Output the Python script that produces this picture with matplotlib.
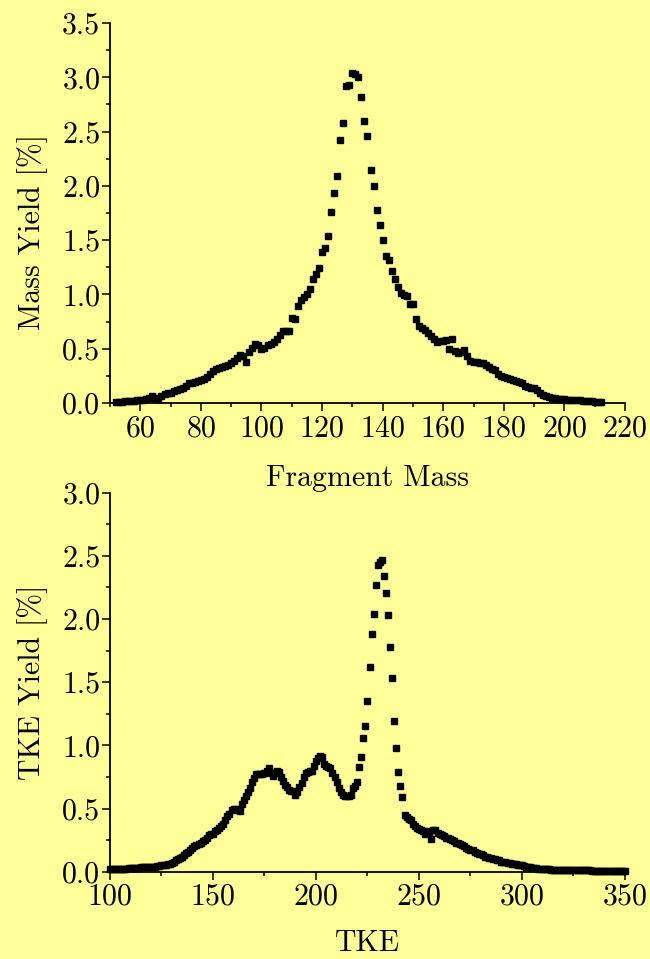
import matplotlib
matplotlib.use("Agg")
import matplotlib.pyplot as plt
from matplotlib.ticker import MultipleLocator, FormatStrFormatter

# fragment mass distribution (mass number 52..212)
mass = list(range(52, 213))
mass_yield = [
    0.01, 0.01, 0.01, 0.015, 0.015, 0.02, 0.02, 0.025,                     # 52-59
    0.025, 0.03, 0.035, 0.05, 0.06, 0.05, 0.04, 0.06, 0.08, 0.09,          # 60-69
    0.09, 0.11, 0.12, 0.13, 0.14, 0.16, 0.18, 0.18, 0.19, 0.20,            # 70-79
    0.21, 0.22, 0.24, 0.27, 0.29, 0.31, 0.32, 0.33, 0.34, 0.35,            # 80-89
    0.37, 0.39, 0.41, 0.44, 0.43, 0.38, 0.47, 0.51, 0.54, 0.53,            # 90-99
    0.50, 0.51, 0.53, 0.54, 0.56, 0.59, 0.63, 0.66, 0.66, 0.66,            # 100-109
    0.78, 0.77, 0.89, 0.95, 0.98, 1.00, 1.05, 1.14, 1.19, 1.24,            # 110-119
    1.39, 1.43, 1.54, 1.76, 1.93, 2.09, 2.42, 2.58, 2.92, 2.93,            # 120-129
    3.04, 3.03, 3.00, 2.82, 2.60, 2.46, 2.15, 2.00, 1.78, 1.64,            # 130-139
    1.50, 1.35, 1.32, 1.22, 1.14, 1.07, 1.01, 0.99, 0.985, 0.91,           # 140-149
    0.91, 0.77, 0.71, 0.69, 0.67, 0.64, 0.62, 0.59, 0.565, 0.57,           # 150-159
    0.57, 0.58, 0.50, 0.59, 0.48, 0.46, 0.47, 0.49, 0.43, 0.39,            # 160-169
    0.38, 0.38, 0.37, 0.37, 0.35, 0.33, 0.31, 0.30, 0.27, 0.25,            # 170-179
    0.24, 0.23, 0.22, 0.21, 0.20, 0.19, 0.18, 0.16, 0.15, 0.14,            # 180-189
    0.135, 0.12, 0.09, 0.075, 0.06, 0.055, 0.05, 0.045, 0.04, 0.035,       # 190-199
    0.035, 0.03, 0.03, 0.028, 0.027, 0.025, 0.022, 0.02, 0.018, 0.015,     # 200-209
    0.013, 0.012, 0.01,                                                    # 210-212
]

# total kinetic energy distribution (100..350)
tke = list(range(100, 351))
tke_yield = [
    0.02, 0.02, 0.02, 0.02, 0.025, 0.025, 0.025, 0.025, 0.025, 0.03,       # 100
    0.03, 0.03, 0.03, 0.03, 0.03, 0.035, 0.035, 0.035, 0.035, 0.04,        # 110
    0.04, 0.04, 0.04, 0.045, 0.045, 0.05, 0.05, 0.055, 0.06, 0.065,        # 120
    0.07, 0.08, 0.09, 0.10, 0.11, 0.12, 0.13, 0.15, 0.16, 0.17,            # 130
    0.19, 0.20, 0.21, 0.22, 0.23, 0.24, 0.25, 0.27, 0.29, 0.30,            # 140
    0.30, 0.32, 0.33, 0.35, 0.36, 0.38, 0.41, 0.44, 0.46, 0.49,            # 150
    0.50, 0.50, 0.49, 0.48, 0.54, 0.57, 0.60, 0.63, 0.66, 0.71,            # 160
    0.74, 0.77, 0.77, 0.77, 0.77, 0.78, 0.80, 0.82, 0.78, 0.76,            # 170
    0.78, 0.80, 0.79, 0.75, 0.72, 0.69, 0.67, 0.65, 0.64, 0.64,            # 180
    0.61, 0.63, 0.67, 0.70, 0.75, 0.78, 0.79, 0.80, 0.80, 0.84,            # 190
    0.88, 0.90, 0.92, 0.91, 0.85, 0.84, 0.83, 0.82, 0.78, 0.75,            # 200
    0.71, 0.66, 0.63, 0.61, 0.60, 0.60, 0.60, 0.61, 0.66, 0.68,            # 210
    0.71, 0.83, 0.91, 1.06, 1.15, 1.35, 1.62, 1.88, 2.04, 2.27,            # 220
    2.43, 2.45, 2.47, 2.34, 2.21, 2.03, 1.78, 1.53, 1.19, 0.98,            # 230
    0.79, 0.68, 0.59, 0.45, 0.43, 0.42, 0.41, 0.38, 0.36, 0.35,            # 240
    0.34, 0.33, 0.32, 0.30, 0.32, 0.31, 0.26, 0.33, 0.33, 0.31,            # 250
    0.30, 0.29, 0.28, 0.27, 0.27, 0.26, 0.25, 0.24, 0.23, 0.23,            # 260
    0.22, 0.21, 0.20, 0.19, 0.18, 0.17, 0.17, 0.16, 0.15, 0.14,            # 270
    0.14, 0.13, 0.12, 0.12, 0.11, 0.11, 0.10, 0.10, 0.09, 0.09,            # 280
    0.08, 0.08, 0.075, 0.07, 0.07, 0.065, 0.06, 0.06, 0.055, 0.053,        # 290
    0.05, 0.045, 0.04, 0.04, 0.035, 0.033, 0.03, 0.027, 0.025, 0.024,      # 300
    0.022, 0.02, 0.02, 0.018, 0.017, 0.016, 0.015, 0.014, 0.013, 0.013,    # 310
    0.012, 0.012, 0.011, 0.011, 0.011, 0.01, 0.01, 0.01, 0.01, 0.01,       # 320
    0.01, 0.01, 0.01, 0.01, 0.009, 0.009, 0.009, 0.009, 0.009, 0.009,      # 330
    0.008, 0.008, 0.008, 0.008, 0.008, 0.008, 0.008, 0.008, 0.008, 0.008,  # 340
    0.008,                                                                 # 350
]

bg = "#ffff99"
plt.rcParams["font.family"] = ["cmr10", "DejaVu Serif"]
plt.rcParams["axes.formatter.use_mathtext"] = True
plt.rcParams["font.size"] = 21.5

fig = plt.figure(figsize=(6.5, 9.59), dpi=100, facecolor=bg)
ax1 = fig.add_axes([0.1692, 0.5798, 0.7923, 0.3962])
ax2 = fig.add_axes([0.1692, 0.0910, 0.7923, 0.3952])


def style(ax):
    ax.set_facecolor(bg)
    for s in ["top", "right"]:
        ax.spines[s].set_visible(False)
    for s in ["left", "bottom"]:
        ax.spines[s].set_linewidth(1.3)
    ax.tick_params(which="major", direction="out", length=5.5, width=1.1, pad=3)
    ax.tick_params(which="minor", direction="out", length=3, width=1.1)
    ax.tick_params(axis="y", which="major", pad=1.5)
    ax.yaxis.set_major_formatter(FormatStrFormatter("%.1f"))


ax1.plot(mass, mass_yield, "s", color="black", markersize=5, clip_on=False)
ax1.set_xlim(50, 220)
ax1.set_ylim(0, 3.5)
ax1.xaxis.set_minor_locator(MultipleLocator(10))
ax1.yaxis.set_major_locator(MultipleLocator(0.5))
ax1.yaxis.set_minor_locator(MultipleLocator(0.25))
ax1.set_xticks(range(60, 221, 20))
style(ax1)
ax1.set_xlabel("Fragment Mass", va="center")
ax1.xaxis.set_label_coords(0.5, -0.197)
ax1.set_ylabel("Mass Yield [%]", va="center")
ax1.yaxis.set_label_coords(-0.151, 0.45)

ax2.plot(tke, tke_yield, "s", color="black", markersize=5, clip_on=False)
ax2.set_xlim(100, 350)
ax2.set_ylim(0, 3.0)
ax2.xaxis.set_major_locator(MultipleLocator(50))
ax2.xaxis.set_minor_locator(MultipleLocator(25))
ax2.yaxis.set_major_locator(MultipleLocator(0.5))
ax2.yaxis.set_minor_locator(MultipleLocator(0.25))
style(ax2)
ax2.set_xlabel("TKE", va="center")
ax2.xaxis.set_label_coords(0.5, -0.19)
ax2.set_ylabel("TKE Yield [%]", va="center")
ax2.yaxis.set_label_coords(-0.151, 0.5)

fig.savefig("out.png", dpi=100, facecolor=bg)
